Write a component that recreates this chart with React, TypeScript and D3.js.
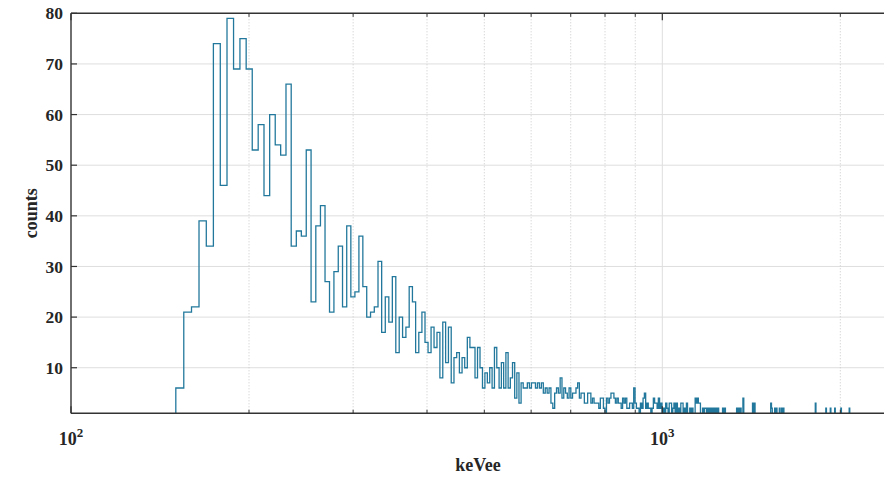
import React from 'react';
import * as d3 from 'd3';

// Histogram bins (keVee): edges = binStart + k * binWidth
const binStart = 150.4;
const binWidth = 4.74;

// counts for bins k = 0 .. 178
const mainCounts = [
  6, 21, 22, 39, 34, 74, 46, 79, 69, 75,
  69, 53, 58, 44, 60, 54, 52, 66, 34, 37,
  36, 53, 23, 38, 42, 27, 21, 29, 34, 22,
  38, 24, 25, 36, 26, 20, 21, 22, 31, 17,
  24, 19, 28, 13, 20, 16, 18, 26, 23, 13,
  17, 21, 15, 13, 18, 14, 17, 8, 19, 11,
  18, 7, 12, 13, 9, 12, 10, 16, 14, 14,
  8, 14, 10, 6, 9, 7, 10, 6, 14, 10,
  6, 11, 6, 13, 6, 8, 11, 4, 9, 3,
  7, 6, 6, 7, 6, 7, 7, 6, 7, 6,
  7, 5, 6, 5, 6, 3, 2, 5, 6, 5,
  8, 4, 6, 5, 4, 6, 4, 5, 5, 6,
  7, 4, 5, 5, 3, 3, 5, 5, 3, 4,
  3, 3, 3, 2, 4, 4, 2, 1, 4, 3,
  4, 5, 5, 4, 3, 4, 3, 3, 2, 4,
  3, 4, 2, 2, 3, 3, 2, 6, 3, 2,
  2, 1, 3, 2, 4, 5, 2, 3, 2, 2,
  1, 2, 4, 3, 3, 2, 4, 2, 3,
];

// sparse tail: bin index and count (other tail bins are empty)
const tailBins = [
  180, 182, 183, 185, 186, 188, 189, 191, 193, 195,
  196, 198, 200, 203, 205, 208, 209, 210, 211, 212,
  215, 217, 218, 220, 222, 224, 226, 228, 230, 235,
  237, 250, 252, 254, 257, 268, 270, 290, 291, 295,
  297, 301, 304, 306, 351, 367, 374, 381, 391, 405,
];
const tailCounts = [
  2, 3, 2, 3, 3, 2, 3, 3, 2, 3,
  3, 2, 3, 2, 2, 4, 3, 4, 3, 3,
  2, 2, 2, 2, 2, 2, 2, 2, 2, 2,
  2, 2, 2, 2, 4, 3, 3, 3, 2, 2,
  2, 2, 2, 2, 3, 2, 2, 2, 2, 2,
];
const lastBin = 410;

const yTicks = [10, 20, 30, 40, 50, 60, 70, 80];
const xMajorTicks = [100, 1000];
const xMajorExponents = ['2', '3'];
const xMinorTicks = [200, 300, 400, 500, 600, 700, 800, 900, 2000];

const W = 884;
const H = 477;
const L = 71;
const R = 885;
const T = 13.3;
const B = 413.3;

const FONT = '"Liberation Serif", "Times New Roman", serif';
const LINE = '#22789c';
const GRID = '#dedede';
const AXIS = '#333333';

export default function App() {
  const x = d3.scaleLog().domain([100, 2380]).range([L, R]);
  const y = d3.scaleLinear().domain([1, 80]).range([B, T]);

  const counts: number[] = [];
  for (let k = 0; k <= lastBin; k++) counts.push(k < mainCounts.length ? mainCounts[k] : 0);
  tailBins.forEach((b, i) => { counts[b] = tailCounts[i]; });

  const pts: [number, number][] = [[binStart, 0]];
  counts.forEach((c, k) => pts.push([binStart + k * binWidth, c]));
  pts.push([binStart + counts.length * binWidth, counts[counts.length - 1]]);
  pts.push([binStart + counts.length * binWidth, 0]);

  const line = d3.line<[number, number]>()
    .x(d => x(d[0]))
    .y(d => y(d[1]))
    .curve(d3.curveStepAfter);

  return (
    <div style={{ position: 'absolute', left: 0, top: 0 }}>
      <svg width={W} height={H} style={{ display: 'block', background: '#fff' }}>
        <defs>
          <clipPath id="plot">
            <rect x={L} y={T} width={R - L} height={B - T + 0.5} />
          </clipPath>
        </defs>
        <rect x={0} y={0} width={W} height={H} fill="#fff" />
        {/* grid */}
        {yTicks.filter(t => t < 80).map(t => (
          <line key={'gy' + t} x1={L} x2={R} y1={y(t)} y2={y(t)} stroke={GRID} strokeWidth={1} />
        ))}
        {xMinorTicks.map(t => (
          <line key={'gm' + t} x1={x(t)} x2={x(t)} y1={T} y2={B} stroke="#c8c8c8" strokeWidth={1} strokeDasharray="1,2" />
        ))}
        <line x1={x(1000)} x2={x(1000)} y1={T} y2={B} stroke={GRID} strokeWidth={1} />

        {/* histogram */}
        <g clipPath="url(#plot)">
          <path d={line(pts) || ''} fill="none" stroke={LINE} strokeWidth={1.3} />
        </g>

        {/* axes */}
        <line x1={L} x2={R} y1={B} y2={B} stroke={AXIS} strokeWidth={1.4} />
        <line x1={L} x2={R} y1={T} y2={T} stroke={AXIS} strokeWidth={1.4} />
        <line x1={L} x2={L} y1={T} y2={B} stroke={AXIS} strokeWidth={1.4} />
        {yTicks.map(t => (
          <line key={'ty' + t} x1={L} x2={L + 6} y1={y(t)} y2={y(t)} stroke={AXIS} strokeWidth={1.2} />
        ))}
        {xMajorTicks.map(t => (
          <g key={'tx' + t}>
            <line x1={x(t)} x2={x(t)} y1={B} y2={B - 7} stroke={AXIS} strokeWidth={1.2} />
            <line x1={x(t)} x2={x(t)} y1={T} y2={T + 7} stroke={AXIS} strokeWidth={1.2} />
          </g>
        ))}
        {xMinorTicks.map(t => (
          <g key={'tm' + t}>
            <line x1={x(t)} x2={x(t)} y1={B} y2={B - 3.5} stroke={AXIS} strokeWidth={1} />
            <line x1={x(t)} x2={x(t)} y1={T} y2={T + 3.5} stroke={AXIS} strokeWidth={1} />
          </g>
        ))}

        {/* tick labels */}
        {yTicks.map(t => (
          <text key={'ly' + t} x={L - 8} y={y(t)} dy="0.35em" textAnchor="end"
            fontFamily={FONT} fontWeight="bold" fontSize={17.5} fill="#262626">{t}</text>
        ))}
        {xMajorTicks.map((t, i) => (
          <text key={'lx' + t} x={x(t)} y={445} textAnchor="middle"
            fontFamily={FONT} fontWeight="bold" fontSize={18} fill="#262626">
            10<tspan dy={-8.5} fontSize={13}>{xMajorExponents[i]}</tspan>
          </text>
        ))}

        {/* axis labels */}
        <text x={(L + R) / 2} y={471} textAnchor="middle" fontFamily={FONT} fontWeight="bold"
          fontSize={18} fill="#262626">keVee</text>
        <text transform={`translate(37, ${(T + B) / 2}) rotate(-90)`} textAnchor="middle"
          fontFamily={FONT} fontWeight="bold" fontSize={18} fill="#262626">counts</text>
      </svg>
    </div>
  );
}
